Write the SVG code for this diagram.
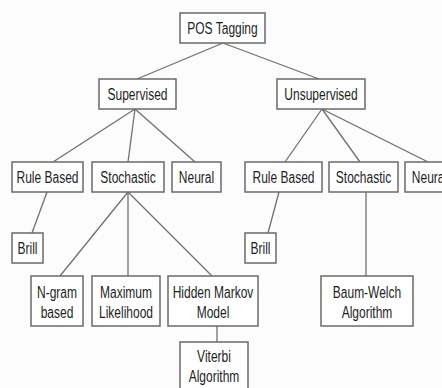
<svg xmlns="http://www.w3.org/2000/svg" width="442" height="388" viewBox="0 0 442 388">
<style>
.box{fill:#fff;stroke:#6a6a6a;stroke-width:1.5}
.lbl{font-family:"Liberation Sans",Arial,sans-serif;font-size:16px;fill:#1e1e1e;text-anchor:middle}
.edge{stroke:#707070;stroke-width:1.3;fill:none}
</style>
<rect width="442" height="388" fill="#fcfcfc"/>
<g id="connectors">
<line class="edge" x1="223" y1="43" x2="137" y2="79"/>
<line class="edge" x1="223" y1="43" x2="319" y2="79"/>
<line class="edge" x1="135" y1="109" x2="53" y2="162"/>
<line class="edge" x1="135" y1="109" x2="128" y2="162"/>
<line class="edge" x1="135" y1="109" x2="195" y2="162"/>
<line class="edge" x1="322" y1="109" x2="285" y2="162"/>
<line class="edge" x1="322" y1="109" x2="360" y2="162"/>
<line class="edge" x1="322" y1="109" x2="428" y2="162"/>
<line class="edge" x1="47" y1="192" x2="32" y2="233"/>
<line class="edge" x1="279" y1="192" x2="268" y2="233"/>
<line class="edge" x1="128" y1="192" x2="60" y2="276"/>
<line class="edge" x1="128" y1="192" x2="128" y2="276"/>
<line class="edge" x1="128" y1="192" x2="212" y2="276"/>
<line class="edge" x1="366" y1="192" x2="366" y2="276"/>
<line class="edge" x1="217" y1="326" x2="217" y2="342"/>
</g>
<g id="pos-tagging"><rect class="box" x="180" y="13" width="85" height="30"/><text class="lbl" transform="translate(222.5,34) scale(0.75,1)">POS Tagging</text></g>
<g id="supervised"><rect class="box" x="99" y="79" width="77" height="30"/><text class="lbl" transform="translate(137.5,100) scale(0.75,1)">Supervised</text></g>
<g id="unsupervised"><rect class="box" x="277" y="79" width="88" height="30"/><text class="lbl" transform="translate(321,100) scale(0.75,1)">Unsupervised</text></g>
<g id="rule-based-sup"><rect class="box" x="12" y="162" width="71" height="30"/><text class="lbl" transform="translate(47.5,183) scale(0.75,1)">Rule Based</text></g>
<g id="stochastic-sup"><rect class="box" x="92" y="162" width="72" height="30"/><text class="lbl" transform="translate(128,183) scale(0.75,1)">Stochastic</text></g>
<g id="neural-sup"><rect class="box" x="172" y="162" width="49" height="30"/><text class="lbl" transform="translate(196.5,183) scale(0.75,1)">Neural</text></g>
<g id="rule-based-unsup"><rect class="box" x="245" y="162" width="77" height="30"/><text class="lbl" transform="translate(283.5,183) scale(0.75,1)">Rule Based</text></g>
<g id="stochastic-unsup"><rect class="box" x="329" y="162" width="69" height="30"/><text class="lbl" transform="translate(363.5,183) scale(0.75,1)">Stochastic</text></g>
<g id="neural-unsup"><rect class="box" x="405" y="162" width="49" height="30"/><text class="lbl" transform="translate(429.5,183) scale(0.75,1)">Neural</text></g>
<g id="brill-sup"><rect class="box" x="12" y="233" width="31" height="30"/><text class="lbl" transform="translate(27.5,254) scale(0.75,1)">Brill</text></g>
<g id="brill-unsup"><rect class="box" x="245" y="233" width="31" height="30"/><text class="lbl" transform="translate(260.5,254) scale(0.75,1)">Brill</text></g>
<g id="ngram"><rect class="box" x="31" y="276" width="52" height="50"/><text class="lbl" transform="translate(57,298) scale(0.75,1)">N-gram</text><text class="lbl" transform="translate(57,318) scale(0.75,1)">based</text></g>
<g id="max-likelihood"><rect class="box" x="92" y="276" width="68" height="50"/><text class="lbl" transform="translate(126,298) scale(0.75,1)">Maximum</text><text class="lbl" transform="translate(126,318) scale(0.75,1)">Likelihood</text></g>
<g id="hmm"><rect class="box" x="168" y="276" width="90" height="50"/><text class="lbl" transform="translate(213,298) scale(0.75,1)">Hidden Markov</text><text class="lbl" transform="translate(213,318) scale(0.75,1)">Model</text></g>
<g id="baum-welch"><rect class="box" x="321" y="276" width="92" height="50"/><text class="lbl" transform="translate(367,298) scale(0.75,1)">Baum-Welch</text><text class="lbl" transform="translate(367,318) scale(0.75,1)">Algorithm</text></g>
<g id="viterbi"><rect class="box" x="180" y="342" width="68" height="52"/><text class="lbl" transform="translate(214,362) scale(0.75,1)">Viterbi</text><text class="lbl" transform="translate(214,382) scale(0.75,1)">Algorithm</text></g>
</svg>
